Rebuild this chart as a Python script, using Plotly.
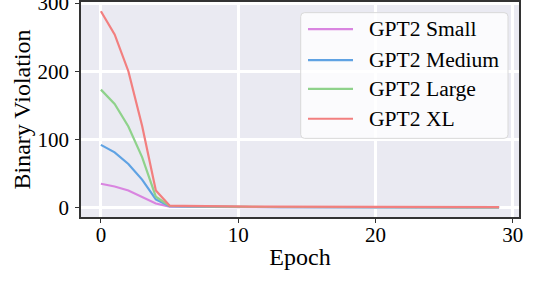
import plotly.graph_objects as go

epochs = list(range(30))
small = [35, 31, 25, 16, 6, 1.5, 1.2, 1.0, 0.9, 0.8, 0.7, 0.6, 0.6, 0.5, 0.5,
         0.4, 0.4, 0.4, 0.3, 0.3, 0.3, 0.3, 0.2, 0.2, 0.2, 0.2, 0.2, 0.2, 0.2, 0.2]
medium = [92, 81, 64, 41, 12, 2.0, 1.6, 1.3, 1.1, 1.0, 0.9, 0.8, 0.7, 0.6, 0.6,
          0.5, 0.5, 0.5, 0.4, 0.4, 0.4, 0.4, 0.3, 0.3, 0.3, 0.3, 0.3, 0.3, 0.3, 0.3]
large = [173, 152, 119, 74, 16, 2.5, 2.0, 1.6, 1.4, 1.2, 1.1, 1.0, 0.9, 0.8, 0.8,
         0.7, 0.7, 0.6, 0.6, 0.5, 0.5, 0.5, 0.5, 0.4, 0.4, 0.4, 0.4, 0.4, 0.4, 0.4]
xl = [288, 254, 200, 120, 25, 3.0, 2.6, 2.2, 2.0, 1.8, 1.6, 1.5, 1.4, 1.3, 1.2,
      1.1, 1.0, 1.0, 0.9, 0.9, 0.8, 0.8, 0.8, 0.7, 0.7, 0.7, 0.7, 0.6, 0.6, 0.6]

names = ["GPT2 Small", "GPT2 Medium", "GPT2 Large", "GPT2 XL"]
series = [small, medium, large, xl]
colors = ["#d985e0", "#5fa2e3", "#8fd28b", "#f27f7f"]

font = "Times New Roman, Liberation Serif, serif"

fig = go.Figure()
for n, s, c in zip(names, series, colors):
    fig.add_trace(go.Scatter(x=epochs, y=s, name=n, mode="lines", showlegend=False,
                             line=dict(color=c, width=2.2)))

# Legend drawn in paper coordinates (box, line samples, labels)
bx0, bx1, by0, by1 = 0.5016, 0.9749, 0.3657, 0.9505
rx, ry = 0.009, 0.018
box_path = (f"M {bx0+rx},{by0} L {bx1-rx},{by0} Q {bx1},{by0} {bx1},{by0+ry} "
            f"L {bx1},{by1-ry} Q {bx1},{by1} {bx1-rx},{by1} L {bx0+rx},{by1} "
            f"Q {bx0},{by1} {bx0},{by1-ry} L {bx0},{by0+ry} Q {bx0},{by0} {bx0+rx},{by0} Z")
fig.add_shape(type="path", path=box_path, xref="paper", yref="paper",
              fillcolor="rgba(255,255,255,0.8)", line=dict(color="#d9d9d9", width=1))
row_y = [0.8736, 0.7301, 0.5958, 0.4569]
for n, c, yy in zip(names, colors, row_y):
    fig.add_shape(type="line", xref="paper", yref="paper", x0=0.5183, x1=0.621,
                  y0=yy, y1=yy, line=dict(color=c, width=2.2))
    fig.add_annotation(x=0.652, y=yy, xref="paper", yref="paper", text=n,
                       showarrow=False, xanchor="left", yanchor="middle",
                       font=dict(size=21.6, family=font, color="black"))

fig.update_layout(
    width=536, height=282,
    margin=dict(l=81, r=17, t=2, b=65, autoexpand=False),
    paper_bgcolor="white",
    plot_bgcolor="#eaeaf2",
    font=dict(family=font, size=21, color="black"),
    showlegend=False,
)
fig.update_xaxes(
    range=[-1.45, 30.45], tickvals=[0, 10, 20, 30],
    showgrid=True, gridcolor="white", gridwidth=2.5, zeroline=False,
    showline=True, linecolor="#333333", linewidth=1.5, mirror=True,
    ticks="outside", ticklen=4, tickcolor="#333333", automargin=False,
    ticklabelstandoff=-6, ticklabeloverflow="allow",
    title=dict(text="Epoch", font=dict(size=24, family=font), standoff=2),
    tickfont=dict(size=21, family=font),
)
fig.update_yaxes(
    range=[-13.8, 301.5], tickvals=[0, 100, 200, 300],
    showgrid=True, gridcolor="white", gridwidth=2.5, zeroline=False,
    showline=True, linecolor="#333333", linewidth=1.5, mirror=True,
    ticks="outside", ticklen=4, tickcolor="#333333", automargin=False,
    ticklabelstandoff=2, ticklabeloverflow="allow",
    title=dict(text="Binary Violation", font=dict(size=24, family=font), standoff=0),
    tickfont=dict(size=21, family=font),
)

fig.write_html("out.html", config={"displayModeBar": False},
               post_script="document.body.style.margin='0';")
